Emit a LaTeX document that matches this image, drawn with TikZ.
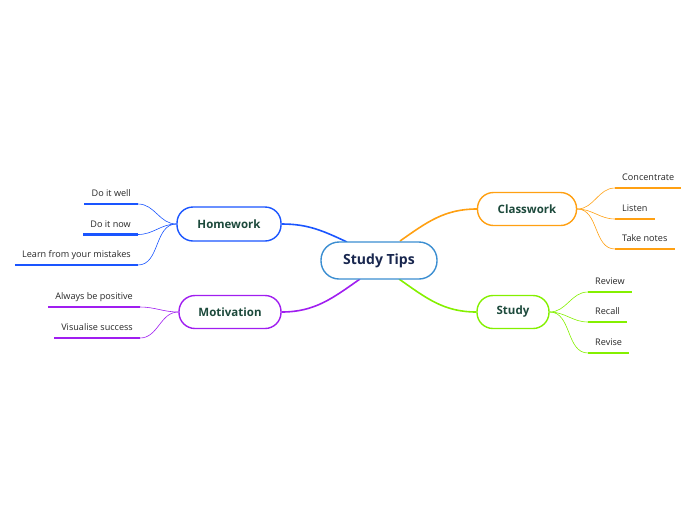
\documentclass[tikz,border=0pt]{standalone}
\usepackage{fontspec}
\setmainfont{Open Sans}
\usepackage{xcolor}
\usetikzlibrary{positioning,calc}
\definecolor{tipsblue}{HTML}{3B8ED1}
\definecolor{hwblue}{HTML}{1A55FF}
\definecolor{motpurple}{HTML}{A01EF0}
\definecolor{cworange}{HTML}{FFA012}
\definecolor{stgreen}{HTML}{84F000}
\definecolor{topictext}{HTML}{1D4A3C}
\definecolor{maintext}{HTML}{18264E}

\begin{document}
\begin{tikzpicture}[x=1pt, y=-1pt,
    main topic/.style={draw=tipsblue, line width=1.4pt, fill=white, rounded corners=18pt, minimum width=116pt, minimum height=37pt, text=maintext, font=\fontsize{14}{16}\selectfont\bfseries},
    sub topic/.style={draw=#1, line width=1.4pt, fill=white, rounded corners=16pt, minimum height=34pt, text=topictext, font=\fontsize{11.5}{13}\selectfont\bfseries},
    leaf/.style={inner xsep=7pt, inner ysep=4.5pt, text height=6.5pt, text depth=2.5pt, text=black!85, font=\fontsize{9.1}{10}\selectfont},
    leaf line/.style={draw=#1, line width=2.2pt},
    branch/.style={draw=#1, line width=1.6pt},
    twig/.style={draw=#1, line width=0.6pt}]
    \useasboundingbox (0,0) rectangle (696,520);

    % branches first, so the boxes sit on top
    \coordinate (tips hw) at (347,242);
    \coordinate (tips cw) at (400,241);
    \coordinate (tips mot) at (360,279);
    \coordinate (tips st) at (399,279);

    \node[sub topic=hwblue, minimum width=104pt] (hw) at (229,224) {Homework};
    \node[sub topic=motpurple, minimum width=102pt, minimum height=33pt] (mot) at (230,312) {Motivation};
    \node[sub topic=cworange, minimum width=99pt, minimum height=33pt] (cw) at (527,209) {Classwork};
    \node[sub topic=stgreen, minimum width=72pt, minimum height=33pt] (st) at (513,312) {Study};

    \draw[branch=hwblue] (tips hw) to[out=155, in=0] (hw.east);
    \draw[branch=cworange] (tips cw) to[out=35, in=180] (cw.west);
    \draw[branch=motpurple] (tips mot) to[out=215, in=0] (mot.east);
    \draw[branch=stgreen] (tips st) to[out=-35, in=180] (st.west);

    \node[main topic] (tips) at (379,260.5) {Study Tips};

    % homework leaves
    \node[leaf, anchor=south east] (hw1) at (138,204) {Do it well};
    \node[leaf, anchor=south east] (hw2) at (138,234.5) {Do it now};
    \node[leaf, anchor=south east] (hw3) at (138,265) {Learn from your mistakes};
    \foreach \n in {hw1,hw2,hw3} {
        \draw[leaf line=hwblue] (\n.south west) -- (\n.south east);
        \draw[twig=hwblue] (hw.west) to[out=180, in=0] (\n.south east);
    }

    % motivation leaves
    \node[leaf, anchor=south east] (mot1) at (140,307) {Always be positive};
    \node[leaf, anchor=south east] (mot2) at (140,338) {Visualise success};
    \foreach \n in {mot1,mot2} {
        \draw[leaf line=motpurple] (\n.south west) -- (\n.south east);
        \draw[twig=motpurple] (mot.west) to[out=180, in=0] (\n.south east);
    }

    % classwork leaves
    \node[leaf, anchor=south west] (cw1) at (615,188) {Concentrate};
    \node[leaf, anchor=south west] (cw2) at (615,219) {Listen};
    \node[leaf, anchor=south west] (cw3) at (615,249) {Take notes};
    \foreach \n in {cw1,cw2,cw3} {
        \draw[leaf line=cworange] (\n.south west) -- (\n.south east);
        \draw[twig=cworange] (cw.east) to[out=0, in=180] (\n.south west);
    }

    % study leaves
    \node[leaf, anchor=south west] (st1) at (588,292) {Review};
    \node[leaf, anchor=south west] (st2) at (588,322) {Recall};
    \node[leaf, anchor=south west] (st3) at (588,353) {Revise};
    \foreach \n in {st1,st2,st3} {
        \draw[leaf line=stgreen] (\n.south west) -- (\n.south east);
        \draw[twig=stgreen] (st.east) to[out=0, in=180] (\n.south west);
    }
\end{tikzpicture}
\end{document}
